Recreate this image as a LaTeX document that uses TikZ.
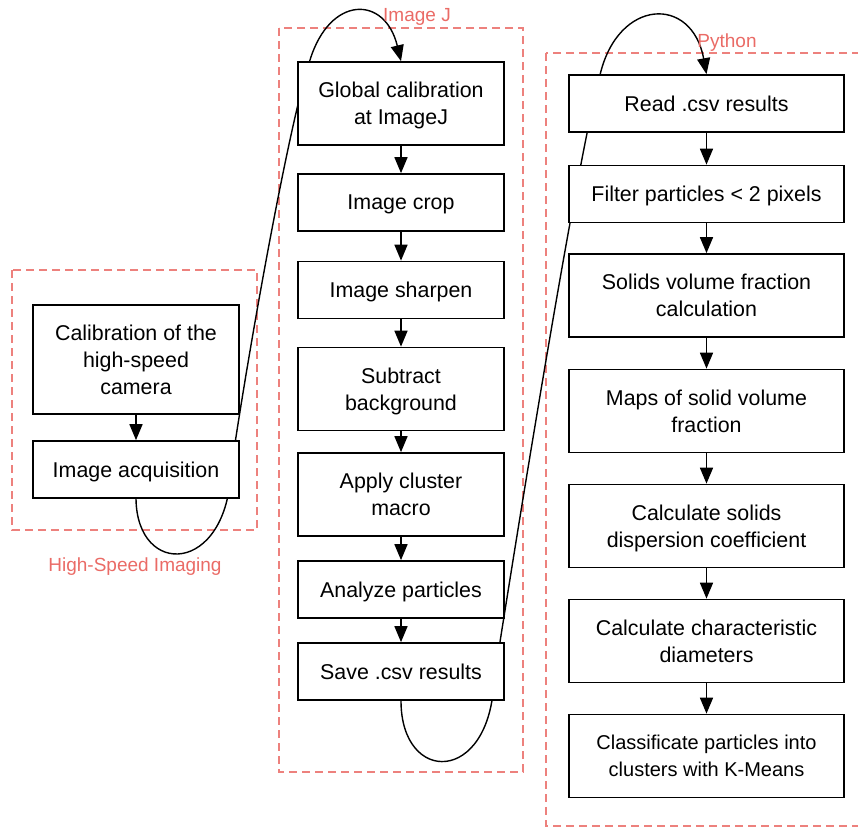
\documentclass[tikz,border=0pt]{standalone}
\usepackage{fontspec}
\setmainfont{Liberation Sans}
\usepackage{tikz}
\usetikzlibrary{arrows.meta}
\usetikzlibrary{backgrounds}
\definecolor{grpred}{HTML}{EA6B66}
\tikzset{
  box/.style={draw, line width=0.85pt, fill=white, minimum width=103pt, minimum height=28.5pt,
    align=center, inner sep=2pt, text depth=0pt, font=\fontsize{10.7}{13.5}\selectfont},
  tallbox/.style={box, minimum height=41.5pt},
  widebox/.style={box, minimum width=137.5pt},
  widetall/.style={widebox, minimum height=41.5pt},
  grp/.style={draw=grpred!85, dash pattern=on 4pt off 2.5pt, line width=0.75pt},
  grplabel/.style={text=grpred, inner sep=0pt, font=\fontsize{9.5}{11}\selectfont},
  arr/.style={-{Triangle[length=8pt,width=6.5pt]}, line width=0.8pt},
}
\begin{document}
\begin{tikzpicture}[x=0.5pt,y=-0.5pt]
       \useasboundingbox (0,0) rectangle (858,827);
       % high-speed imaging
       \node[box, minimum height=54.5pt] (cal) at (136,359.5) {Calibration of the\\high-speed\\camera};
       \node[box] (acq) at (136,469.5) {Image acquisition};
       % image j
       \node[tallbox] (glob) at (401,103.5) {Global calibration\\at ImageJ};
       \node[box] (crop) at (401,202.5) {Image crop};
       \node[box] (sharp) at (401,290) {Image sharpen};
       \node[tallbox] (subbg) at (401,389) {Subtract\\background};
       \node[tallbox] (clus) at (401,494.5) {Apply cluster\\macro};
       \node[box] (anal) at (401,589.5) {Analyze particles};
       \node[box] (save) at (401,671.5) {Save .csv results};
       % python
       \node[widebox] (read) at (706.5,103.5) {Read .csv results};
       \node[widebox] (filt) at (706.5,194) {Filter particles < 2 pixels};
       \node[widetall] (svf) at (706.5,295.5) {Solids volume fraction\\calculation};
       \node[widetall] (maps) at (706.5,411) {Maps of solid volume\\fraction};
       \node[widetall] (disp) at (706.5,526) {Calculate solids\\dispersion coefficient};
       \node[widetall] (diam) at (706.5,641) {Calculate characteristic\\diameters};
       \node[widetall, font=\fontsize{10}{13.5}\selectfont] (kmean) at (706.5,756) {Classificate particles into\\clusters with K-Means};

       \node[grplabel] (lhsi) at (135,567) {High-Speed Imaging};
       \node[grplabel] (lij) at (417,17) {Image J};
       \node[grplabel] (lpy) at (727,43) {Python};

       \begin{scope}[on background layer]
       \draw[grp] (12,270) rectangle (257,530);
       \draw[grp] (279,28) rectangle (523,772);
       \draw[grp] (546,53) rectangle (866,826);
       \draw[arr, line width=0.7pt] (acq.south) .. controls (137,578) and (227,575) .. (231,470)
            .. controls (250,340) and (290,120) .. (310,60)
            .. controls (330,-5) and (385,-5) .. (glob.north);
       \draw[arr, line width=0.7pt] (save.south) .. controls (401,785) and (490,785) .. (494,680)
            .. controls (530,450) and (580,150) .. (600,75)
            .. controls (618,-2) and (692,-5) .. (read.north);
       \end{scope}

       \draw[arr] (cal) -- (acq);
       \foreach \a/\b in {glob/crop,crop/sharp,sharp/subbg,subbg/clus,clus/anal,anal/save,
                          read/filt,filt/svf,svf/maps,maps/disp,disp/diam,diam/kmean}
         \draw[arr] (\a) -- (\b);
\end{tikzpicture}
\end{document}
